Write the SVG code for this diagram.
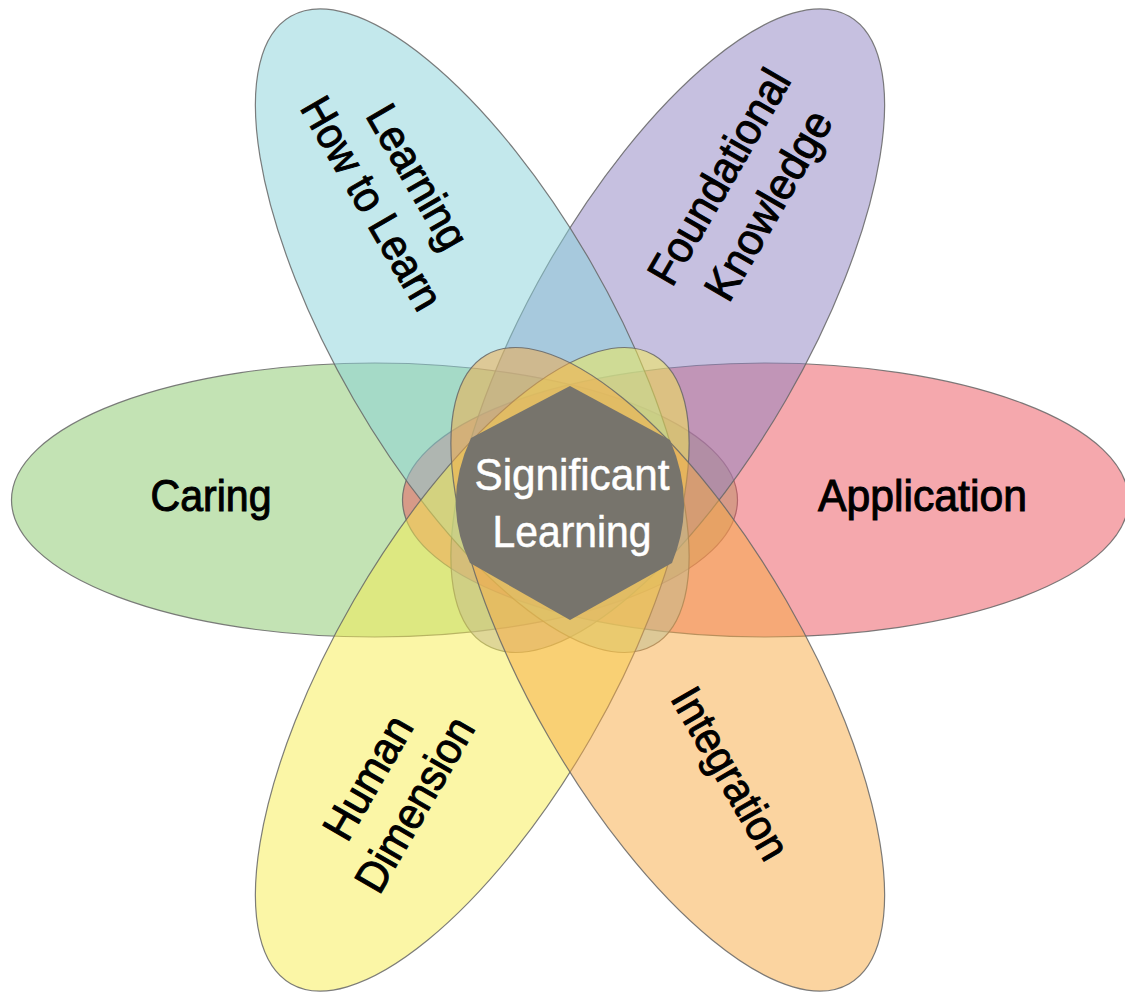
<svg xmlns="http://www.w3.org/2000/svg" width="1125" height="992" viewBox="0 0 1125 992">
  <style>
    .petal { stroke: #666666; stroke-width: 1.2; stroke-opacity: 0.85; fill-opacity: 0.5; }
    .lbl { font-family: "Liberation Sans", Arial, sans-serif; font-size: 44px; fill: #000000; stroke: #000000; stroke-width: 1; text-anchor: middle; }
    .ctr { font-family: "Liberation Sans", Arial, sans-serif; font-size: 44px; fill: #ffffff; stroke: #ffffff; stroke-width: 0.5; text-anchor: middle; }
  </style>
  <rect x="0" y="0" width="1125" height="992" fill="#ffffff"/>

  <g id="caring">
    <ellipse class="petal" cx="374.5" cy="500" rx="363" ry="137" fill="#87c769"/>
    <text class="lbl" x="211" y="511" textLength="121" lengthAdjust="spacingAndGlyphs">Caring</text>
  </g>

  <g id="application">
    <ellipse class="petal" cx="765.5" cy="500" rx="363" ry="137" fill="#eb515b"/>
    <text class="lbl" x="922.5" y="511" textLength="209" lengthAdjust="spacingAndGlyphs">Application</text>
  </g>

  <g id="foundational-knowledge">
    <ellipse class="petal" cx="0" cy="0" rx="363" ry="137" fill="#8d81c1" transform="translate(667.75,330.7) rotate(-60)"/>
    <g transform="translate(745.5,192) rotate(-60)">
      <text class="lbl" x="0" y="-15.5" textLength="240" lengthAdjust="spacingAndGlyphs">Foundational</text>
      <text class="lbl" x="0" y="41.5" textLength="211" lengthAdjust="spacingAndGlyphs">Knowledge</text>
    </g>
  </g>

  <g id="learning-how-to-learn">
    <ellipse class="petal" cx="0" cy="0" rx="363" ry="137" fill="#87d1d9" transform="translate(472.25,330.7) rotate(60)"/>
    <g transform="translate(393,191) rotate(60)">
      <text class="lbl" x="0" y="-13.5" textLength="159" lengthAdjust="spacingAndGlyphs">Learning</text>
      <text class="lbl" x="0" y="39.5" textLength="238" lengthAdjust="spacingAndGlyphs">How to Learn</text>
    </g>
  </g>

  <g id="human-dimension">
    <ellipse class="petal" cx="0" cy="0" rx="363" ry="137" fill="#f7ed4d" transform="translate(472.25,669.3) rotate(-60)"/>
    <g transform="translate(393,792) rotate(-60)">
      <text class="lbl" x="0" y="-14" textLength="135" lengthAdjust="spacingAndGlyphs">Human</text>
      <text class="lbl" x="0" y="40" textLength="194" lengthAdjust="spacingAndGlyphs">Dimension</text>
    </g>
  </g>

  <g id="integration">
    <ellipse class="petal" cx="0" cy="0" rx="363" ry="137" fill="#f7a941" transform="translate(667.75,669.3) rotate(60)"/>
    <g transform="translate(729.5,774) rotate(60)">
      <text class="lbl" x="0" y="14" textLength="191" lengthAdjust="spacingAndGlyphs">Integration</text>
    </g>
  </g>

  <g id="significant-learning">
    <path d="M570,386 L670,440 Q697,502 672,563 L570,620 L470,563 Q441,502 471,438 Z" fill="#77746c"/>
    <text class="ctr" x="572" y="490" textLength="195" lengthAdjust="spacingAndGlyphs">Significant</text>
    <text class="ctr" x="572" y="547" textLength="159" lengthAdjust="spacingAndGlyphs">Learning</text>
  </g>

  <g id="connectors"></g>
</svg>
